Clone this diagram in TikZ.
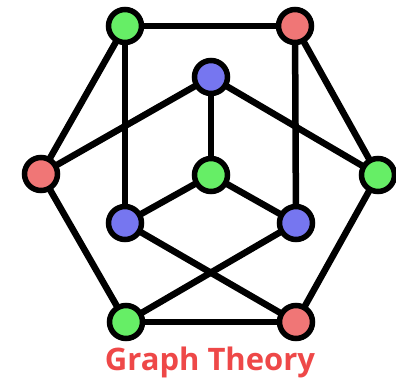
\documentclass[tikz,border=0pt]{standalone}
\usepackage{fontspec}
\setmainfont{Open Sans}
\usetikzlibrary{backgrounds}
\definecolor{ngreen}{RGB}{102,238,102}
\definecolor{nred}{RGB}{240,118,118}
\definecolor{nblue}{RGB}{118,118,240}
\definecolor{tred}{RGB}{238,72,72}
\begin{document}
\begin{tikzpicture}[x=1pt,y=-1pt,
  vtx/.style={circle,draw=black,line width=5.5pt,minimum size=33pt,inner sep=0pt},
  edge/.style={line width=6.5pt,black}]
\useasboundingbox (0,0) rectangle (396,382);
\node[vtx,fill=ngreen] (tl) at (125,26) {};
\node[vtx,fill=nred] (tr) at (295,26) {};
\node[vtx,fill=nblue] (ub) at (211,77) {};
\node[vtx,fill=nred] (l) at (41,174) {};
\node[vtx,fill=ngreen] (c) at (211,175) {};
\node[vtx,fill=ngreen] (r) at (378,175) {};
\node[vtx,fill=nblue] (lb) at (125,223) {};
\node[vtx,fill=nblue] (rb) at (296,223) {};
\node[vtx,fill=ngreen] (bl) at (126,322) {};
\node[vtx,fill=nred] (br) at (296,322) {};
\begin{scope}[on background layer]
\draw[edge] (tl.center) -- (tr.center);
\draw[edge] (tl.center) -- (l.center);
\draw[edge] (tr.center) -- (r.center);
\draw[edge] (l.center) -- (bl.center);
\draw[edge] (r.center) -- (br.center);
\draw[edge] (bl.center) -- (br.center);
\draw[edge] (tl.center) -- (lb.center);
\draw[edge] (tr.center) -- (rb.center);
\draw[edge] (ub.center) -- (l.center);
\draw[edge] (ub.center) -- (r.center);
\draw[edge] (ub.center) -- (c.center);
\draw[edge] (c.center) -- (lb.center);
\draw[edge] (c.center) -- (rb.center);
\draw[edge] (lb.center) -- (br.center);
\draw[edge] (rb.center) -- (bl.center);
\end{scope}
\node[text=tred,font=\bfseries\fontsize{31}{33}\selectfont,anchor=base] (title) at (210,370) {Graph Theory};
\end{tikzpicture}
\end{document}
